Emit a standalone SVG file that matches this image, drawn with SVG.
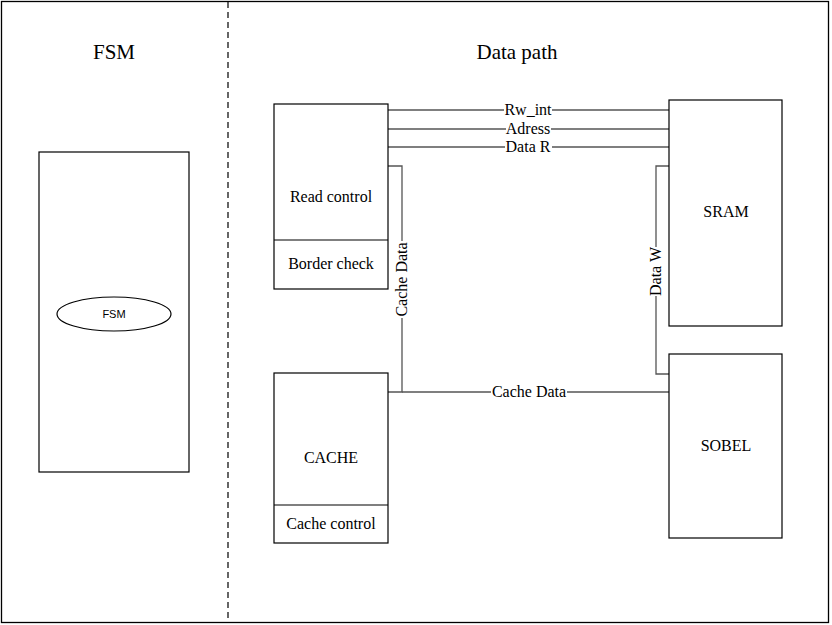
<svg xmlns="http://www.w3.org/2000/svg" width="832" height="625" viewBox="0 0 832 625">
<style>
.box{fill:#fff;stroke:#000;stroke-width:1.2}
.w{fill:none;stroke:#555;stroke-width:1.3}
.t{font-family:"Liberation Serif",serif;font-size:16px;text-anchor:middle;fill:#000}
.lbl{font-family:"Liberation Serif",serif;font-size:16px;text-anchor:middle;fill:#000}
.title{font-family:"Liberation Serif",serif;font-size:21px;text-anchor:middle;fill:#000}
.bg{fill:#fff;stroke:none}
</style>
<rect x="0" y="0" width="832" height="625" fill="#fff"/>
<rect x="1.5" y="1.5" width="827" height="621" fill="none" stroke="#000" stroke-width="1.3"/>
<line x1="228" y1="2" x2="228" y2="622" stroke="#000" stroke-width="1.2" stroke-dasharray="6,4"/>
<text class="title" x="114" y="59">FSM</text>
<text class="title" x="517" y="59">Data path</text>
<g id="connectors">
<line class="w" x1="388" y1="110" x2="669" y2="110"/>
<line class="w" x1="388" y1="129" x2="669" y2="129"/>
<line class="w" x1="388" y1="147" x2="669" y2="147"/>
<polyline class="w" points="388,166 402,166 402,392 388,392"/>
<line class="w" x1="402" y1="392" x2="669" y2="392"/>
<polyline class="w" points="669,166 656,166 656,374 669,374"/>
<rect class="bg" x="504" y="102" width="48" height="16"/>
<text class="lbl" x="528" y="115">Rw_int</text>
<rect class="bg" x="506" y="121" width="45" height="16"/>
<text class="lbl" x="528" y="134">Adress</text>
<rect class="bg" x="505" y="139" width="47" height="16"/>
<text class="lbl" x="528" y="152">Data R</text>
<rect class="bg" x="491" y="384" width="76" height="16"/>
<text class="lbl" x="529" y="397">Cache Data</text>
<rect class="bg" x="394" y="241" width="16" height="77"/>
<text class="lbl" x="0" y="0" transform="translate(407,279.5) rotate(-90)">Cache Data</text>
<rect class="bg" x="648" y="247" width="16" height="49"/>
<text class="lbl" x="0" y="0" transform="translate(661,271.5) rotate(-90)">Data W</text>
</g>
<g id="fsm">
<rect class="box" x="39" y="152" width="150" height="320"/>
</g>
<g id="fsm-state">
<ellipse cx="114" cy="314" rx="57" ry="17" fill="#fff" stroke="#000" stroke-width="1.2"/>
<text x="114" y="318" font-family="Liberation Sans,sans-serif" font-size="11" text-anchor="middle">FSM</text>
</g>
<g id="read-control">
<rect class="box" x="274" y="104" width="114" height="185"/>
<line x1="274" y1="240" x2="388" y2="240" stroke="#000" stroke-width="1.2"/>
<text class="t" x="331" y="202">Read control</text>
<text class="t" x="331" y="269">Border check</text>
</g>
<g id="cache">
<rect class="box" x="274" y="373" width="114" height="170"/>
<line x1="274" y1="505" x2="388" y2="505" stroke="#000" stroke-width="1.2"/>
<text class="t" x="331" y="463">CACHE</text>
<text class="t" x="331" y="529">Cache control</text>
</g>
<g id="sram">
<rect class="box" x="669" y="100" width="113" height="226"/>
<text class="t" x="726" y="217">SRAM</text>
</g>
<g id="sobel">
<rect class="box" x="669" y="354" width="113" height="184"/>
<text class="t" x="726" y="451">SOBEL</text>
</g>
</svg>
